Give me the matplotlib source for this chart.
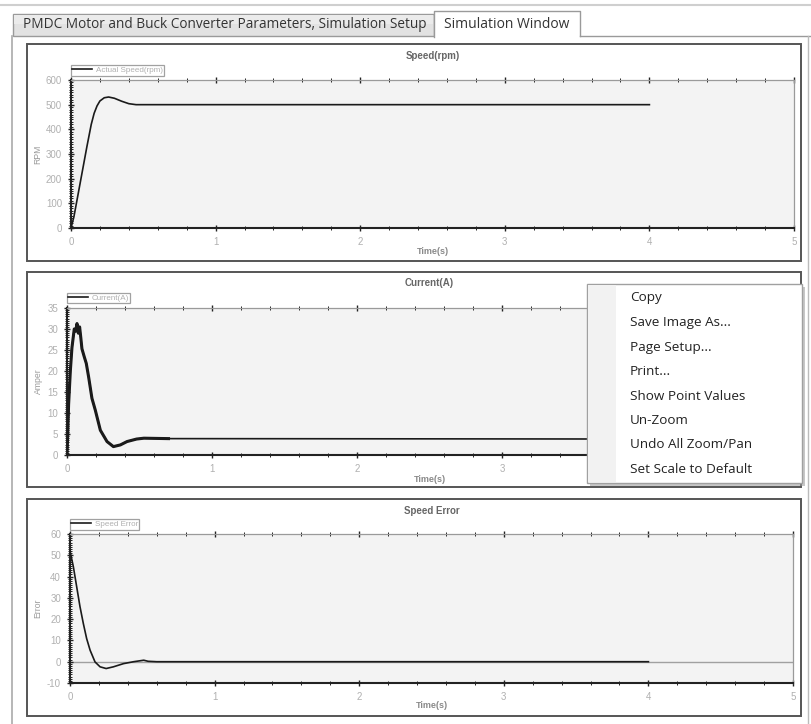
import matplotlib
matplotlib.use("Agg")
import matplotlib.pyplot as plt
from matplotlib.patches import Rectangle
from matplotlib.lines import Line2D
from matplotlib.ticker import MultipleLocator

plt.rcParams["axes.unicode_minus"] = False

W, H = 811, 724

# ---------------- data ----------------
tab_labels = ["PMDC Motor and Buck Converter Parameters, Simulation Setup", "Simulation Window"]
menu_items = ["Copy", "Save Image As...", "Page Setup...", "Print...",
              "Show Point Values", "Un-Zoom", "Undo All Zoom/Pan", "Set Scale to Default"]

panel_titles = ["Speed(rpm)", "Current(A)", "Speed Error"]
legend_labels = ["Actual Speed(rpm)", "Current(A)", "Speed Error"]
y_labels = ["RPM", "Amper", "Error"]
x_label = "Time(s)"
x_ticks = [0, 1, 2, 3, 4, 5]
y_limits = [(0, 600), (0, 35), (-10, 60)]
y_major = [100, 5, 10]

speed_t = [0, 0.02, 0.05, 0.08, 0.11, 0.14, 0.16, 0.18, 0.20, 0.23, 0.26, 0.30, 0.35, 0.40, 0.45, 4.0]
speed_rpm = [0, 45, 140, 235, 330, 420, 465, 495, 515, 528, 531, 526, 514, 504, 500, 500]

current_t = [0, 0.005, 0.011, 0.023, 0.034, 0.05, 0.06, 0.069, 0.078, 0.087, 0.095, 0.103, 0.118,
             0.133, 0.149, 0.172, 0.195, 0.23, 0.276, 0.32, 0.368, 0.414, 0.48, 0.53, 0.70, 4.0]
current_a = [0, 5, 12, 20, 25.5, 30, 29.5, 31.3, 29.0, 30.5, 28.0, 25.3, 23.5,
             21.8, 18.6, 13.5, 10.7, 5.9, 3.2, 2.0, 2.4, 3.2, 3.8, 4.0, 3.9, 3.8]

error_t = [0, 0.023, 0.046, 0.069, 0.092, 0.115, 0.139, 0.173, 0.208, 0.25, 0.30, 0.37, 0.44, 0.51, 0.54, 0.60, 4.0]
error_v = [52, 44.7, 35.3, 25.9, 18, 10.9, 5.4, -0.1, -2.4, -3.2, -2.4, -0.9, 0, 0.7, 0.2, 0, 0]

series_t = [speed_t, current_t, error_t]
series_v = [speed_rpm, current_a, error_v]

# ---------------- layout (pixels) ----------------
axes_px = [(71, 80, 794, 228), (67, 308, 792, 455), (70, 534, 793, 683)]
panels_px = [(27, 44, 801, 261), (27, 272, 801, 487), (27, 499, 801, 716)]
title_y = [56, 283, 511]
xlabel_y = [251, 480, 706]
ylabel_x = 38
menu_box = (587, 284, 802, 483)

UI_FONT = "Open Sans"
CH_FONT = "Liberation Sans"


def frect(l, t, r, b):
    return [l / W, 1 - b / H, (r - l) / W, (b - t) / H]


fig = plt.figure(figsize=(W / 100, H / 100), dpi=100)
fig.patch.set_facecolor("white")

bg = fig.add_axes([0, 0, 1, 1], zorder=0)
bg.set_xlim(0, W)
bg.set_ylim(H, 0)
bg.axis("off")

# window chrome
bg.add_line(Line2D([0, W], [5, 5], color="#cfcfcf", lw=1.5))
bg.add_patch(Rectangle((13, 14), 421, 22, facecolor="#e2e2e2", edgecolor="#9a9a9a", lw=1))
bg.add_patch(Rectangle((14, 15), 419, 9, facecolor="#ebebeb", edgecolor="none"))
bg.add_patch(Rectangle((434, 11), 146, 26, facecolor="white", edgecolor="none"))
bg.add_line(Line2D([434, 434, 580, 580], [37, 11, 11, 36], color="#9a9a9a", lw=1))
bg.add_line(Line2D([580, W], [36, 36], color="#9a9a9a", lw=1))
bg.add_line(Line2D([12, 12], [36, H], color="#aaaaaa", lw=1.2))
bg.add_line(Line2D([808, 808], [36, H], color="#bbbbbb", lw=1.0))

tab1 = bg.text(22.7, 25, tab_labels[0], fontsize=10, family=UI_FONT, color="#333333",
               ha="left", va="center")
tab2 = bg.text(444, 24, tab_labels[1], fontsize=10, family=UI_FONT, color="#333333",
               ha="left", va="center")

for (l, t, r, b) in panels_px:
    bg.add_patch(Rectangle((l, t), r - l, b - t, facecolor="white", edgecolor="#555555", lw=1.4))

# ---------------- charts ----------------
chart_axes = []
for i in range(3):
    l, t, r, b = axes_px[i]
    hpx, wpx = b - t, r - l
    ax = fig.add_axes(frect(l, t, r, b), zorder=2)
    chart_axes.append(ax)
    ax.set_facecolor("#f3f3f3")
    ax.set_xlim(0, 5)
    ax.set_ylim(*y_limits[i])
    ax.set_xticks(x_ticks)
    ax.xaxis.set_minor_locator(MultipleLocator(0.2))
    ax.yaxis.set_major_locator(MultipleLocator(y_major[i]))
    ax.yaxis.set_minor_locator(MultipleLocator(y_major[i] / 10))
    for side in ("top", "right"):
        ax.spines[side].set_color("#9a9a9a")
        ax.spines[side].set_linewidth(0.9)
    for side in ("left", "bottom"):
        ax.spines[side].set_color("#222222")
        ax.spines[side].set_linewidth(1.5)
    ax.tick_params(which="major", direction="inout", length=5, width=1.0, color="#222222",
                   labelcolor="#b0b0b0", labelsize=7, top=True, right=False, pad=4)
    ax.tick_params(which="minor", direction="inout", length=3, width=0.7, color="#222222",
                   top=True, right=False)
    for lab in ax.get_xticklabels() + ax.get_yticklabels():
        lab.set_family(CH_FONT)

    if i == 2:
        ax.axhline(0, color="#a0a0a0", lw=1.0, zorder=1)

    ln, = ax.plot(series_t[i], series_v[i], color="#1a1a1a", lw=1.2, label=legend_labels[i], zorder=3)
    if i == 1:
        n = sum(1 for v in current_t if v <= 0.7)
        ax.plot(current_t[:n], current_a[:n], color="#1a1a1a", lw=2.2, zorder=3)

    ax.set_title(panel_titles[i], fontsize=7, fontweight="bold", color="#666666", family=CH_FONT,
                 y=1 + (t - title_y[i]) / hpx, va="center", pad=0)
    ax.set_xlabel(x_label, fontsize=6.5, fontweight="bold", color="#8a8a8a", family=CH_FONT)
    ax.xaxis.set_label_coords(0.5, -(xlabel_y[i] - b) / hpx)
    ax.xaxis.label.set_va("center")
    ax.set_ylabel(y_labels[i], fontsize=6.2, color="#9a9a9a", family=CH_FONT)
    ax.yaxis.set_label_coords(-(l - ylabel_x) / wpx, 0.5)
    ax.yaxis.label.set_va("center")

    leg = ax.legend(handles=[ln], loc="lower left", bbox_to_anchor=(0, 1 + 4.5 / hpx),
                    borderaxespad=0, frameon=True, fancybox=False,
                    handlelength=2.4, handletextpad=0.5, borderpad=0.15,
                    prop={"family": CH_FONT, "size": 5.8})
    leg.get_frame().set_edgecolor("#8a8a8a")
    leg.get_frame().set_linewidth(0.9)
    leg.get_frame().set_facecolor("white")
    for txt in leg.get_texts():
        txt.set_color("#b0b0b0")

# ---------------- context menu ----------------
ov = fig.add_axes([0, 0, 1, 1], zorder=10)
ov.set_xlim(0, W)
ov.set_ylim(H, 0)
ov.axis("off")
ov.patch.set_alpha(0)
mx0, my0, mx1, my1 = menu_box
ov.add_patch(Rectangle((mx0 + 3, my0 + 3), mx1 - mx0, my1 - my0, facecolor="#9a9a9a", alpha=0.55, edgecolor="none"))
ov.add_patch(Rectangle((mx0, my0), mx1 - mx0, my1 - my0, facecolor="white", edgecolor="#a0a0a0", lw=1))
ov.add_patch(Rectangle((mx0 + 1, my0 + 1), 28, my1 - my0 - 2, facecolor="#f2f2f2", edgecolor="none"))
menu_texts = []
item_y0, item_dy = 298, 24.5
for k, item in enumerate(menu_items):
    menu_texts.append(ov.text(630, item_y0 + k * item_dy, item, fontsize=9.5, family=UI_FONT,
                              color="#222222", ha="left", va="center"))

# fit UI text widths to the reference; hide tick labels that the menu covers
fig.canvas.draw()
rend = fig.canvas.get_renderer()


def fit(txt, target):
    w = txt.get_window_extent(rend).width
    return txt.get_fontsize() * target / w


s_menu = fit(menu_texts[4], 116)
for mt in menu_texts:
    mt.set_fontsize(s_menu)
tab1.set_fontsize(fit(tab1, 404))
tab2.set_fontsize(fit(tab2, 125))

for lab in chart_axes[1].get_xticklabels():
    bb = lab.get_window_extent(rend)
    x_px = 0.5 * (bb.x0 + bb.x1)
    y_px = H - 0.5 * (bb.y0 + bb.y1)
    if mx0 - 3 <= x_px <= mx1 and my0 <= y_px <= my1:
        lab.set_visible(False)

fig.savefig("out.png", dpi=100, facecolor="white")
